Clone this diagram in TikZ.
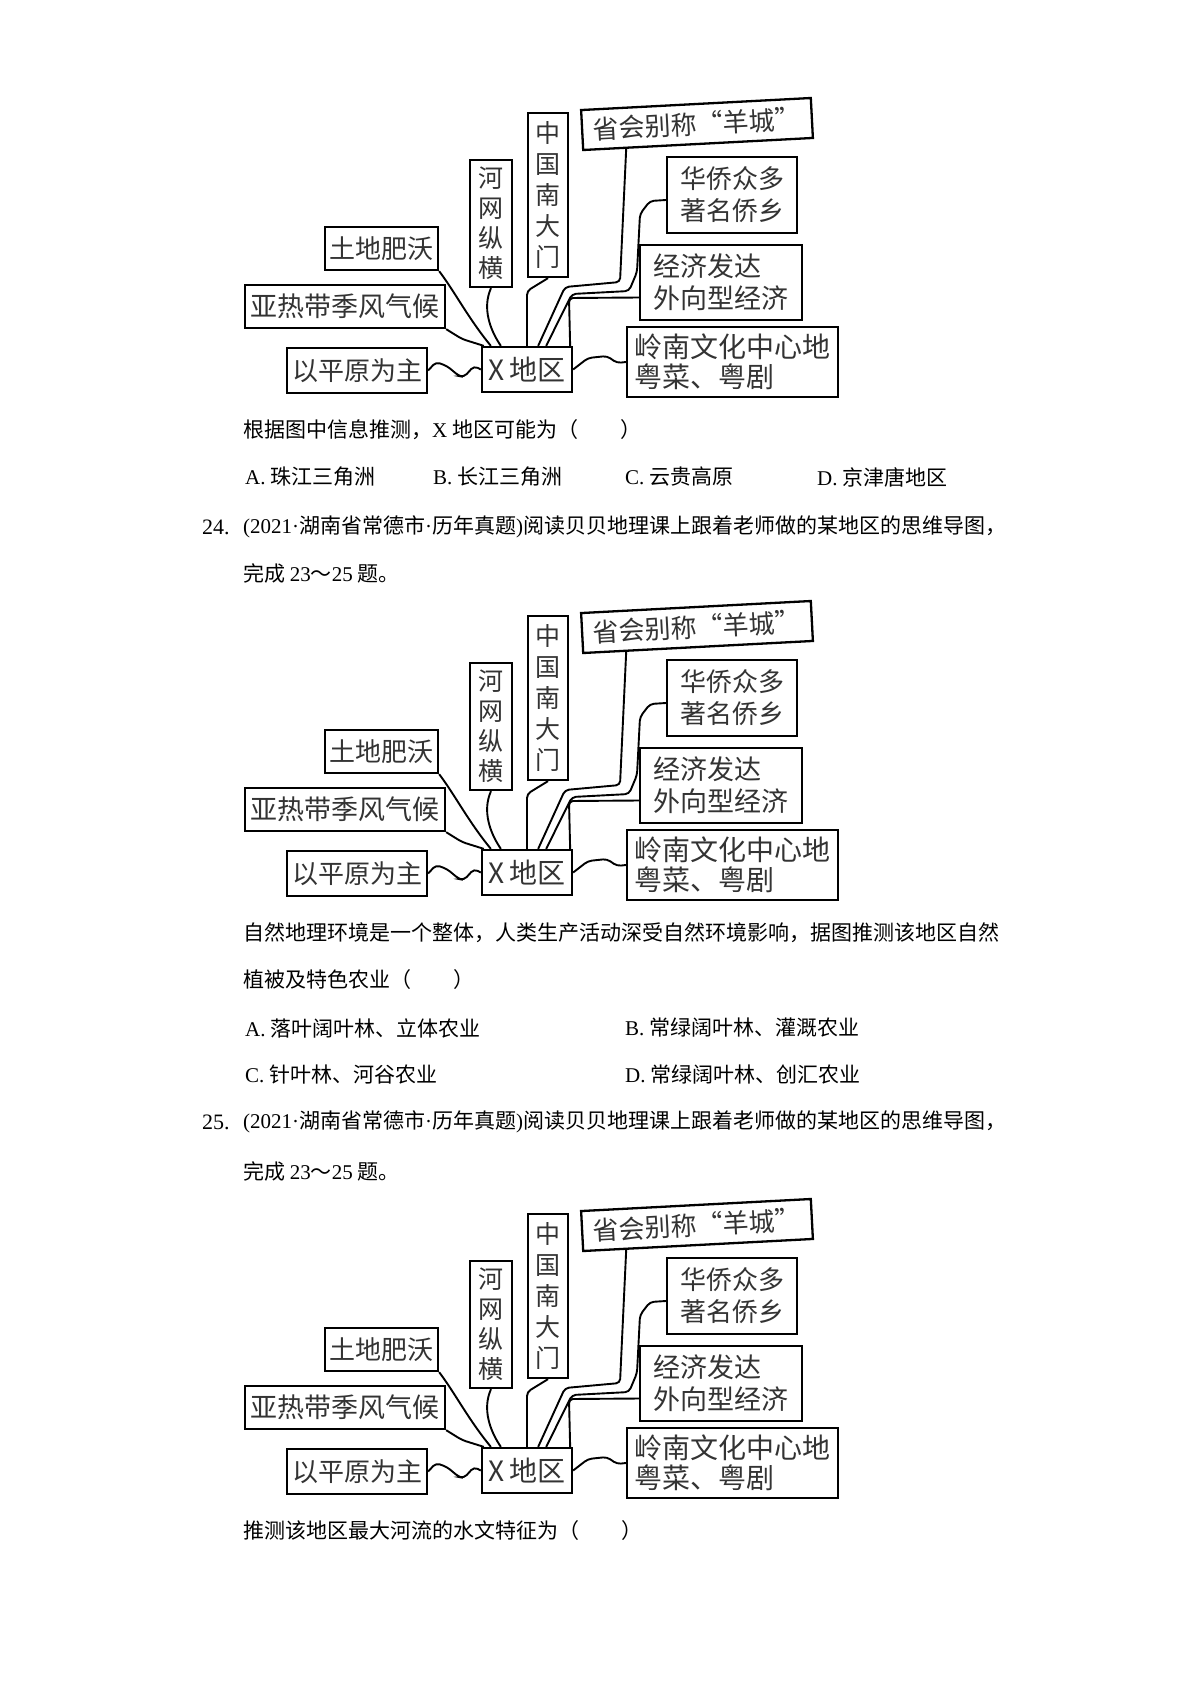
\documentclass[tikz,border=0pt]{standalone}
\usepackage{fontspec}
\setmainfont{Liberation Serif}
\newfontfamily\cjk{Noto Sans CJK SC}
\usetikzlibrary{calc}
\newcommand{\lat}[1]{{\rmfamily #1}}

\begin{document}
\begin{tikzpicture}[x=1pt,y=-1pt,
  box/.style={draw,line width=2.3pt,inner sep=0pt,text=black!80,
    font=\cjk\fontsize{26}{31}\selectfont},
  link/.style={line width=1.9pt,rounded corners=4pt},
  txt/.style={anchor=west,inner sep=0pt,font=\cjk\fontsize{21}{21}\selectfont}]
% page
\fill[white] (0,0) rectangle (1200,1698);
\useasboundingbox (0,0) rectangle (1200,1698);

% draw the same mind map three times
\foreach \n/\dy in {1/0,2/503,3/1101}{
\begin{scope}[shift={(0,\dy)}]
% draw boxes
\node[box,minimum width=90pt,minimum height=45pt,font=\cjk\fontsize{28}{28}\selectfont] (x\n) at (527,369.5) {X\,地区};
\node[box,minimum width=230pt,minimum height=40pt,rotate=3] (sh\n) at (697,124) {省会别称“羊城”};
\node[box,minimum width=40pt,minimum height=164pt,align=center,font=\cjk\fontsize{25}{31}\selectfont] (zg\n) at (548,195) {中\\国\\南\\大\\门};
\node[box,minimum width=42pt,minimum height=127pt,align=center,font=\cjk\fontsize{25}{30}\selectfont] (hw\n) at (491,223.5) {河\\网\\纵\\横};
\node[box,minimum width=130pt,minimum height=76pt,align=center,font=\cjk\fontsize{26}{32}\selectfont] (hq\n) at (732,195) {华侨众多\\著名侨乡};
\node[box,minimum width=162pt,minimum height=75pt,align=left,font=\cjk\fontsize{27}{32}\selectfont] (jj\n) at (721,282.5) {经济发达\\外向型经济};
\node[box,minimum width=211pt,minimum height=70pt,align=left,font=\cjk\fontsize{28}{30}\selectfont] (ln\n) at (732.5,362) {岭南文化中心地\\粤菜、粤剧};
\node[box,minimum width=140pt,minimum height=45pt] (pl\n) at (357,370.5) {以平原为主};
\node[box,minimum width=200pt,minimum height=43pt,font=\cjk\fontsize{27}{27}\selectfont] (yr\n) at (345,306.5) {亚热带季风气候};
\node[box,minimum width=113pt,minimum height=43pt] (td\n) at (381.5,248.5) {土地肥沃};

% draw connectors to the X box
\draw[link] (td\n.south east) .. controls (455,292) and (468,318) .. ([xshift=10pt]x\n.north west);
\draw[link] (yr\n.south east) -- (462,339) -- ([xshift=3pt]x\n.north west);
\draw[link] (hw\n.south) .. controls (482,308) and (490,330) .. ([xshift=20pt]x\n.north west);
\draw[link] (zg\n.south) -- (527,291) -- (x\n.north);
\draw[link] ($(sh\n.south west)!0.19!(sh\n.south east)$) -- (620,282) -- (565,287) -- ([xshift=-35pt]x\n.north east);
\draw[link] ([yshift=-5pt]hq\n.west) -- (650,201) -- (640,214) -- (637,272) -- (629,291) -- (572,294) -- ([xshift=-27pt]x\n.north east);
\draw[link] ([yshift=-15pt]jj\n.west) -- (569,298) -- ([xshift=-3pt]x\n.north east);
\draw[link] (pl\n.east) -- (436,362) -- (447,366) -- (459,376) -- (464,377) -- (474,366) -- (x\n.west);
\draw[link] (x\n.east) -- (588,358) -- (607,356) -- (617,363) -- (ln\n.west);
\end{scope}
}

% draw question 23 text
\node[txt] (q23) at (243,430) {根据图中信息推测，\lat{X} 地区可能为（\hspace{2em}）};
\node[txt] (q23a) at (245,477) {\lat{A.} 珠江三角洲};
\node[txt] (q23b) at (433,477) {\lat{B.} 长江三角洲};
\node[txt] (q23c) at (625,477) {\lat{C.} 云贵高原};
\node[txt] (q23d) at (817,477) {\lat{D.} 京津唐地区};

% draw question 24 text
\node[txt,font=\rmfamily\fontsize{22}{22}\selectfont] (n24) at (202,527) {24.};
\node[txt] (q24) at (243,527) {\lat{(2021·}湖南省常德市\lat{·}历年真题\lat{)}阅读贝贝地理课上跟着老师做的某地区的思维导图，};
\node[txt] (q24b) at (243,573) {完成 \lat{23}～\lat{25} 题。};
\node[txt] (q24c) at (243,933) {自然地理环境是一个整体，人类生产活动深受自然环境影响，据图推测该地区自然};
\node[txt] (q24d) at (243,980) {植被及特色农业（\hspace{2em}）};
\node[txt] (q24e) at (245,1028) {\lat{A.} 落叶阔叶林、立体农业};
\node[txt] (q24f) at (625,1028) {\lat{B.} 常绿阔叶林、灌溉农业};
\node[txt] (q24g) at (245,1075) {\lat{C.} 针叶林、河谷农业};
\node[txt] (q24h) at (625,1075) {\lat{D.} 常绿阔叶林、创汇农业};

% draw question 25 text
\node[txt,font=\rmfamily\fontsize{22}{22}\selectfont] (n25) at (202,1122) {25.};
\node[txt] (q25) at (243,1122) {\lat{(2021·}湖南省常德市\lat{·}历年真题\lat{)}阅读贝贝地理课上跟着老师做的某地区的思维导图，};
\node[txt] (q25b) at (243,1171) {完成 \lat{23}～\lat{25} 题。};
\node[txt] (q25c) at (243,1530) {推测该地区最大河流的水文特征为（\hspace{2em}）};
\end{tikzpicture}
\end{document}
